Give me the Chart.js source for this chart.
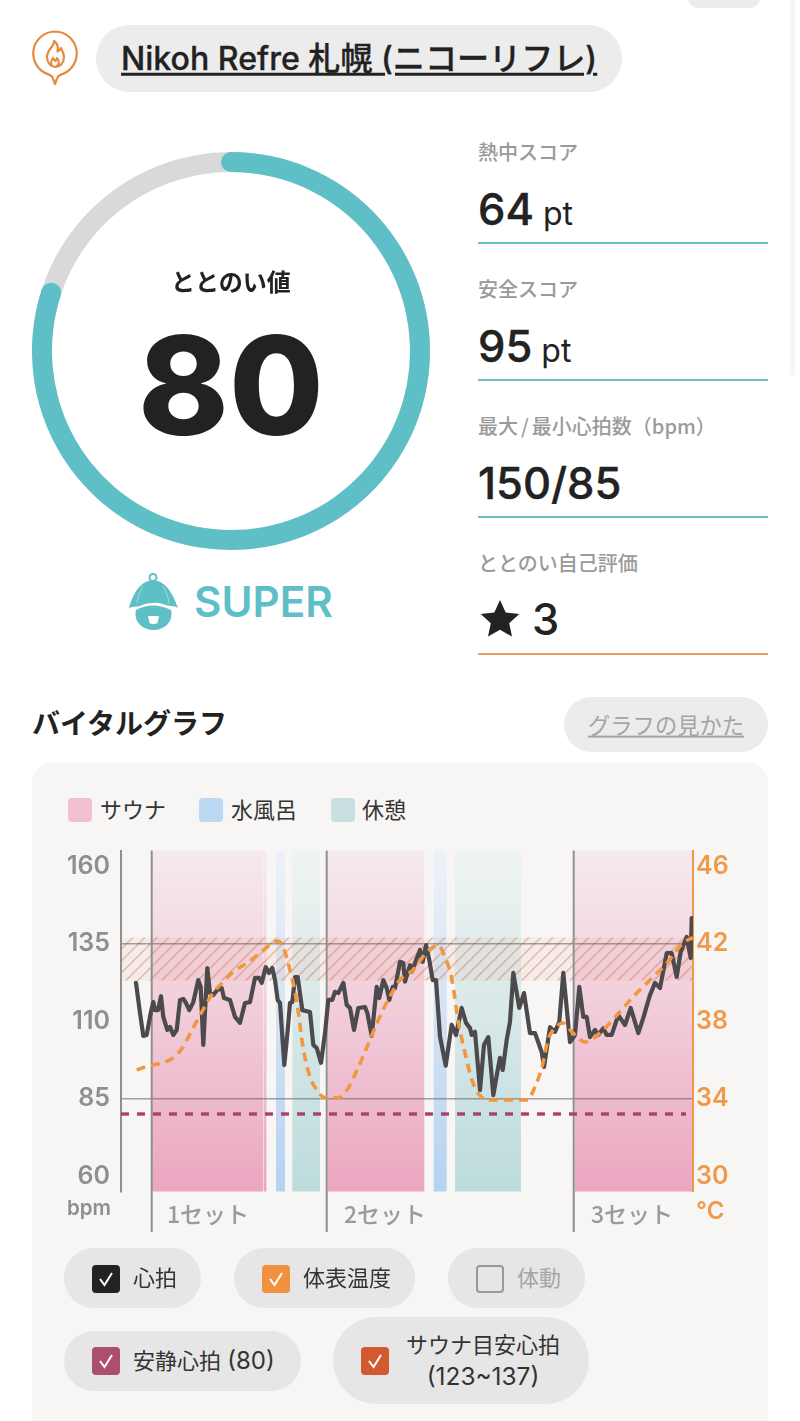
<!DOCTYPE html>
<html lang="ja"><head><meta charset="utf-8">
<script src="https://cdn.jsdelivr.net/npm/chart.js@4"></script>
<style>
html,body{margin:0;padding:0;background:#fff;width:800px;height:1421px;overflow:hidden}
body{position:relative;font-family:Inter,"Noto Sans CJK JP",sans-serif;color:#222}
.a{position:absolute;white-space:nowrap}
.c{transform:translateY(-50%);line-height:1.2}
.pill{position:absolute;background:#e6e6e6;border-radius:30px}
.box{position:absolute;width:28px;height:28px;border-radius:4px;box-sizing:border-box}
.box svg{position:absolute;left:0;top:0}
.lab{font-size:20px;font-weight:500;color:#9a9a9a;left:478px}
.val{font-size:43.500px;font-weight:500;color:#222;left:478px;-webkit-text-stroke:.4px #222}
.val span{-webkit-text-stroke:0}
.rule{position:absolute;left:478px;width:290px;height:2px;background:#6cc0c4}
.jp{font-family:"Noto Sans CJK JP",sans-serif}
canvas{position:absolute;display:block}
.t22{font-size:22px;font-family:Inter,"Noto Sans CJK JP",sans-serif;color:#333;margin-top:-.5px}
.t22 span{font-size:24px}
</style></head><body>
<div class="a" style="left:688px;top:-14px;width:72px;height:22px;background:#ececec;border-radius:11px"></div>
<div class="a" style="left:790px;top:0;width:5px;height:375px;background:#f6f6f6"></div>

<svg class="a" style="left:30px;top:28px" width="50" height="60" viewBox="0 0 50 60" fill="none" stroke="#e8893a" stroke-width="2.2" stroke-linejoin="round" stroke-linecap="round">
<path d="M25 3.500a22 22 0 0 1 6 43.100c-2 .7-3.400 2-4 4l-2 5.400-2-5.400c-.6-2-2-3.300-4-4a22 22 0 0 1 6-43.100z"/>
<path d="M24 13c1 5-7 8-7 16 0 6 4 10 8.500 10S34 35 34 29c0-4-2-6-3-9-1 2-2 3-3.500 3.500C28.500 19 27 15 24 13z"/>
<path d="M22 38c-2-3-1-5 1-8 .5 2 1.500 2.500 2.500 3 1-1 1.500-2 1.500-3 2 2 3 6 0 8"/>
</svg>
<div class="a" style="left:96px;top:25px;width:526px;height:67px;background:#ececec;border-radius:34px"></div>
<div class="a c" style="left:121px;top:59px;font-size:32.100px;font-weight:500;font-family:Inter,'Noto Sans CJK JP';text-decoration:underline;text-decoration-thickness:3px;text-underline-offset:3px;color:#222;-webkit-text-stroke:.3px #222">Nikoh Refre 札幌 (ニコーリフレ)</div>

<canvas id="gauge" style="left:31px;top:151px;width:400px;height:400px" width="400" height="400"></canvas>
<div class="a c jp" style="left:131px;width:200px;text-align:center;top:281px;font-size:24px;font-weight:700;color:#222">ととのい値</div>
<div class="a c" style="left:81px;width:300px;text-align:center;top:385px;font-size:137px;font-weight:800;color:#222;line-height:1">80</div>

<svg class="a" style="left:127px;top:572px" width="54" height="60" viewBox="0 0 54 60">
<circle cx="26" cy="5.500" r="3.500" fill="none" stroke="#5fbfc6" stroke-width="2"/>
<path d="M2 36C6 22 13 8.500 26 8.500S46 22 51 36c-5-3-8-1-12-3-4-1-8-3-13-2-5 0-9 1-13 3-3 1-6 0-11 2z" fill="#5fbfc6"/>
<path d="M16 14c-3 5-5 10-6 17M36 14c3 5 5 10 6 17" stroke="#fff" stroke-width=".8" opacity=".5" fill="none"/>
<path d="M9 38c5-3 11-4.500 17-4.500S38 35 44 38c.5 1.500.5 3 .5 4.500C44.500 51.500 36 58 26.500 58S8.500 51.500 8.500 42.500c0-1.500 0-3 .5-4.500z" fill="#5fbfc6"/>
<path d="M21 44h11l-1.500 7c-1.500 1.500-6.500 1.500-8 0z" fill="#fff"/>
</svg>
<div class="a c" style="left:194px;top:602px;font-size:42.200px;font-weight:600;color:#5fbfc6">SUPER</div>

<div class="a c lab jp" style="top:152px">熱中スコア</div>
<div class="a c val" style="top:209px">64<span style="font-size:32px;font-weight:400;margin-left:9px">pt</span></div>
<div class="rule" style="top:242px"></div>
<div class="a c lab jp" style="top:289px">安全スコア</div>
<div class="a c val" style="top:346px">95<span style="font-size:32px;font-weight:400;margin-left:9px">pt</span></div>
<div class="rule" style="top:379px"></div>
<div class="a c lab jp" style="top:426px">最大<span style="margin:0 3px">/</span>最小心拍数（bpm）</div>
<div class="a c val" style="top:483px">150/85</div>
<div class="rule" style="top:516px"></div>
<div class="a c lab jp" style="top:563px">ととのい自己評価</div>
<svg class="a" style="left:480px;top:599px" width="40" height="38" viewBox="0 0 40 38"><path d="M20 1l5.700 12.500 13.600 1.500-10.100 9.200 2.800 13.400L20 30.800 8 37.600l2.800-13.400L.7 15l13.600-1.500z" fill="#222"/></svg>
<div class="a c val" style="left:532px;top:619px;-webkit-text-stroke:0">3</div>
<div class="rule" style="top:653px;background:#e8a060"></div>

<div class="a c jp" style="left:32px;top:723px;font-size:28px;font-weight:700;color:#222">バイタルグラフ</div>
<div class="a" style="left:564px;top:697px;width:204px;height:55px;background:#ececec;border-radius:28px"></div>
<div class="a c jp" style="left:588px;top:723.500px;font-size:22.300px;color:#a5a5a5;text-decoration:underline">グラフの見かた</div>

<div class="a" style="left:32px;top:763px;width:736px;height:680px;background:#f7f6f5;border-radius:20px"></div>
<div class="box" style="left:68px;top:798px;width:24px;height:24px;background:#f2bfd2"></div>
<div class="a c t22" style="left:100px;top:810px">サウナ</div>
<div class="box" style="left:199px;top:798px;width:24px;height:24px;background:#bdd8f3"></div>
<div class="a c t22" style="left:231px;top:810px">水風呂</div>
<div class="box" style="left:331px;top:798px;width:24px;height:24px;background:#c9e0e0"></div>
<div class="a c t22" style="left:362px;top:810px">休憩</div>

<canvas id="vital" style="left:60px;top:845px;width:690px;height:392px" width="690" height="392"></canvas>
<div class="a c" style="left:67px;top:1208px;font-size:20.500px;font-weight:600;color:#8f8f8f">bpm</div>
<div class="a c" style="left:696px;top:1211px;font-size:24px;font-weight:600;color:#ef9a4b">°C</div>

<div class="pill" style="left:64px;top:1248px;width:137px;height:60px"></div>
<div class="box" style="left:92px;top:1265px;background:#222"><svg width="28" height="28"><polyline points="8,14 12.500,20 20,8" fill="none" stroke="#fff" stroke-width="2"/></svg></div>
<div class="a c t22" style="left:133px;top:1278px">心拍</div>
<div class="pill" style="left:234px;top:1248px;width:181px;height:60px"></div>
<div class="box" style="left:262px;top:1265px;background:#f0913f"><svg width="28" height="28"><polyline points="8,14 12.500,20 20,8" fill="none" stroke="#fff" stroke-width="2"/></svg></div>
<div class="a c t22" style="left:303px;top:1278px">体表温度</div>
<div class="pill" style="left:448px;top:1248px;width:137px;height:60px"></div>
<div class="box" style="left:476px;top:1265px;border:2.500px solid #999"></div>
<div class="a c t22" style="left:517px;top:1278px;color:#a5a5a5">体動</div>
<div class="pill" style="left:64px;top:1331px;width:237px;height:60px"></div>
<div class="box" style="left:92px;top:1347px;background:#ab4f6e"><svg width="28" height="28"><polyline points="8,14 12.500,20 20,8" fill="none" stroke="#fff" stroke-width="2"/></svg></div>
<div class="a c t22" style="left:133px;top:1361px">安静心拍 <span>(80)</span></div>
<div class="pill" style="left:333px;top:1317px;width:256px;height:87px;border-radius:44px"></div>
<div class="box" style="left:361px;top:1347px;background:#d15b2e"><svg width="28" height="28"><polyline points="8,14 12.500,20 20,8" fill="none" stroke="#fff" stroke-width="2"/></svg></div>
<div class="a c t22" style="left:383px;width:200px;text-align:center;top:1345px">サウナ目安心拍</div>
<div class="a c t22" style="left:383px;width:200px;text-align:center;top:1377px"><span style="font-size:24.400px">(123~137)</span></div>

<script>
/* ---- gauge ---- */
const gaugeValues = [80, 20];

/* ---- vital graph ---- */
const hrTime = [15,19,22.3,25.7,29.7,32.3,34,37,40,42.3,46.3,49,52.3,55.7,59,62.3,65,68.3,72.3,77.3,79.7,82.3,86.3,89,92.3,96.3,100.7,103,109,114,119,124,129,134,138,140.7,144.7,148,151.3,154,156.7,159,163.3,166.7,169,171.3,174,176.7,181.3,189,192.3,195.7,200,204,207.3,211.3,214,217.3,222.3,225.7,229,233,237.3,244,246.3,250.7,255.7,258.3,262.3,265.7,268.3,271.7,274,279,282.3,284,289,290.7,294,299,301.7,305,308.3,311.7,315,319,324.7,330.7,335,340.7,345,349,350.7,354,359,363,367.3,372.3,376.3,379,381.7,385.7,389,392.3,398.3,403,409,414,420.7,423,429,434,438.3,442.3,449,454,458.3,462.3,465.7,469,474,477.3,482.3,485.7,490.7,497.3,504,509.7,517.3,522.3,529,534,539,545.7,550.7,555.7,559.7,565.7,569.7,570.7];
const hrBpm = [122.3,112.6,105.2,105.5,112.6,116.1,113.5,113.5,118,111.3,107.1,108.1,105.5,107.1,116.8,117.1,115.8,113.5,116.1,123.2,121,102.3,127.1,119,118.4,120,120.6,117.4,116.8,111.3,109.4,115.8,116.1,123.9,123.9,122.3,127.4,125.5,127.1,123.2,116.8,115.8,95.8,107.1,115.8,116.1,124.2,124.2,113.5,112.9,102.3,101.3,96.5,106.1,116.8,116.8,119.4,119,122.3,115.2,114.2,107.1,114.2,114.5,112.6,105.2,121,117.4,123.2,120.6,116.8,121,120.6,129.1,128.7,122.7,128,125.9,128.7,132.9,129.1,134.5,129.7,123.2,123.2,105,95.6,108.8,105.5,114.2,109.4,107.7,105.5,106.5,87.7,102.3,104.8,86.1,93.5,98.1,94.2,103.9,109.7,125.5,114.2,119,106.1,106.1,100,95.2,108,106.5,109.7,125.5,103.2,105.5,121,111.3,111.3,104.8,107.1,105.5,107.7,105.5,105.5,111.9,108.7,114.2,106.1,111,118.4,122.3,120.6,131.9,131.9,124.2,132.3,137.1,130.3,143.2];
const tempTime = [15.7,27,42,52,62,72,82,92,102,112,126,139,149,157,162,169,176,182,189,196,202,209,217,226,236,246,256,267,279,292,306,317,324,331,337,344,351,357,366,379,406,414,421,427,434,442,452,464,479,496,512,529,546,562,572];
const tempC = [35.47,35.68,35.85,36.09,36.66,37.64,38.57,39.45,40.01,40.53,40.99,41.51,41.92,42.13,41.82,40.63,38.93,36.66,35.11,34.44,34.08,34.03,34.03,34.44,35.47,36.66,37.9,39.08,40.12,40.63,41.56,41.92,41.3,40.12,38.05,36.35,34.95,34.28,33.92,33.92,33.92,34.6,35.63,37.02,37.64,37.9,37.38,36.92,37.38,38.31,39.24,40.12,40.99,42.03,42.3];
const restTime = [0,565];
const restBpm = [80,80];
const targetLow = 123;
const targetHigh = 137;
const saunaBands = [[31,142],[142.6,145.5],[207,303.3],[454,572]];
const waterBands = [[155,164],[312.7,325.7]];
const restBands = [[171.3,199],[334,400]];
const setStarts = [30.7,205.7,452.7];
const setLabelAt = [87,264,511];
const setLabels = ['1セット','2セット','3セット'];
const bpmTicks = [160,135,110,85,60];
const bpmGrid = [135,85];
const tempTicks = [46,42,38,34,30];

const TEAL = '#5fbfc6', GREY = '#d9d9d9';

const gaugePlugin = {
  id:'gaugeRing',
  beforeDatasetsDraw(c){
    const a = c.getDatasetMeta(0).data[0], g = c.ctx;
    const w = a.outerRadius - a.innerRadius;
    g.save(); g.beginPath(); g.lineWidth = w; g.strokeStyle = GREY;
    g.arc(a.x,a.y,a.outerRadius-w/2,0,Math.PI*2); g.stroke(); g.restore();
  },
  afterDatasetsDraw(c){
    const a = c.getDatasetMeta(0).data[0], g = c.ctx;
    const w = a.outerRadius - a.innerRadius, r = a.outerRadius - w/2;
    g.save(); g.fillStyle = TEAL;
    [a.startAngle,a.endAngle].forEach(t=>{
      g.beginPath(); g.arc(a.x+r*Math.cos(t),a.y+r*Math.sin(t),w/2,0,Math.PI*2); g.fill();
    });
    g.restore();
  }
};
new Chart(document.getElementById('gauge'),{
  type:'doughnut',
  data:{labels:['ととのい値',''],datasets:[{data:gaugeValues,backgroundColor:[TEAL,'rgba(0,0,0,0)'],borderWidth:0}]},
  options:{responsive:false,animation:false,cutout:'90%',layout:{padding:1},
    plugins:{legend:{display:false},tooltip:{enabled:false}}},
  plugins:[gaugePlugin]
});

const vitalPlugin = {
  id:'vitalBands',
  beforeDraw(c){
    const g = c.ctx, a = c.chartArea, x = c.scales.x, y = c.scales.y;
    const fillBands = (bands,top,mid,bot)=>{
      const gr = g.createLinearGradient(0,a.top,0,a.bottom);
      gr.addColorStop(0,top); gr.addColorStop(.5,mid); gr.addColorStop(1,bot);
      g.fillStyle = gr;
      bands.forEach(b=>{const l=x.getPixelForValue(b[0]),r=x.getPixelForValue(b[1]);g.fillRect(l,a.top,r-l,a.bottom-a.top);});
    };
    fillBands(saunaBands,'#f6eaee','#f1cbd9','#eba6c0');
    fillBands(waterBands,'#edf2f8','#d3e2f3','#b5d2f2');
    fillBands(restBands,'#eff3f3','#d8e7e7','#bcdcdc');
    // target-rate hatch
    const yt = y.getPixelForValue(targetHigh), yb = y.getPixelForValue(targetLow);
    g.save();
    g.beginPath(); g.rect(a.left,yt,a.right-a.left,yb-yt); g.clip();
    g.fillStyle = 'rgba(214,120,80,.07)'; g.fillRect(a.left,yt,a.right-a.left,yb-yt);
    g.strokeStyle = 'rgba(212,110,70,.45)'; g.lineWidth = 1.4;
    const h = yb-yt;
    for(let px=a.left-h; px<a.right+h; px+=12){
      g.beginPath(); g.moveTo(px,yb); g.lineTo(px+h,yt); g.stroke();
    }
    g.restore();
  },
  beforeDatasetsDraw(c){
    const g = c.ctx, a = c.chartArea, x = c.scales.x;
    g.save(); g.strokeStyle = '#8f8f8f'; g.lineWidth = 2;
    setStarts.forEach(t=>{const p=x.getPixelForValue(t);g.beginPath();g.moveTo(p,a.top);g.lineTo(p,a.bottom+40.5);g.stroke();});
    g.restore();
  }
};

const pairs = (xs,ys)=>xs.map((v,i)=>({x:v,y:ys[i]}));
const tickFont = {family:'Inter',size:25,weight:'600'};
const noPad = s=>{s.paddingTop=0;s.paddingBottom=0;s.paddingLeft=0;s.paddingRight=0;};
new Chart(document.getElementById('vital'),{
  type:'line',
  data:{datasets:[
    {label:'体表温度',yAxisID:'y1',order:0,data:pairs(tempTime,tempC),borderColor:'#f0973f',borderWidth:3.6,borderDash:[9,6],cubicInterpolationMode:'monotone',pointRadius:0,borderCapStyle:'butt'},
    {label:'心拍',yAxisID:'y',order:1,data:pairs(hrTime,hrBpm),borderColor:'#4c4a4d',borderWidth:4.2,tension:0,pointRadius:0,borderJoinStyle:'round',borderCapStyle:'round'},
    {label:'安静心拍',yAxisID:'y',order:2,data:pairs(restTime,restBpm),borderColor:'#ab4069',borderWidth:3.4,borderDash:[8,8],pointRadius:0}
  ]},
  options:{
    responsive:false,animation:false,
    layout:{padding:{top:5.5,left:0,right:0,bottom:0}},
    plugins:{legend:{display:false},tooltip:{enabled:false}},
    scales:{
      x:{type:'linear',min:0,max:572,
        afterBuildTicks:s=>{s.ticks=setLabelAt.map(v=>({value:v}));},
        afterFit:s=>{s.height=45.5;noPad(s);},
        grid:{display:false},border:{display:false},
        ticks:{autoSkip:false,maxRotation:0,padding:1,color:'#9a9a9a',
          font:{family:'"Noto Sans CJK JP"',size:23,weight:'500'},
          callback:v=>setLabels[setLabelAt.indexOf(v)]}},
      y:{position:'left',min:55,max:165,
        afterBuildTicks:s=>{s.ticks=bpmTicks.map(v=>({value:v}));},
        afterFit:s=>{s.width=61;noPad(s);},
        grid:{drawTicks:false,lineWidth:1.5,color:ctx=>bpmGrid.includes(ctx.tick.value)?'rgba(105,100,105,.6)':'rgba(0,0,0,0)'},
        border:{color:'#8f8f8f',width:2},
        ticks:{padding:11,color:'#8f8f8f',font:tickFont}},
      y1:{position:'right',min:29.2,max:46.8,
        afterBuildTicks:s=>{s.ticks=tempTicks.map(v=>({value:v}));},
        afterFit:s=>{s.width=57;noPad(s);},
        grid:{display:false,drawTicks:false},
        border:{color:'#ef9a4b',width:2},
        ticks:{padding:3,color:'#ef9a4b',font:tickFont}}
    }
  },
  plugins:[vitalPlugin]
});
</script>
</body></html>
